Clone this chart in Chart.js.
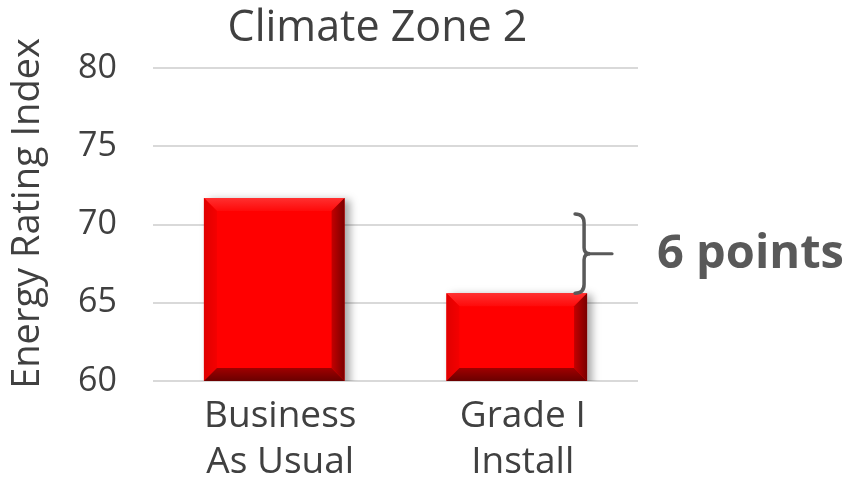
<!DOCTYPE html>
<html>
<head>
<meta charset="utf-8">
<script src="https://cdn.jsdelivr.net/npm/chart.js@4"></script>
<style>
    html, body { margin: 0; padding: 0; background: #ffffff; }
    #wrap { width: 850px; height: 485px; }
</style>
</head>
<body>
<div id="wrap"><canvas id="zoneChart" width="850" height="485"></canvas></div>
<script>
// Chart data
const categories = [['Business', 'As Usual'], ['Grade I', 'Install']];
const ratingValues = [71.7, 65.6];
const yTicks = [60, 65, 70, 75, 80];
const chartTitle = 'Climate Zone 2';
const axisTitle = 'Energy Rating Index';

const FONT = "'Open Sans', sans-serif";
const TEXT_COLOR = '#404040';
const NOTE_COLOR = '#595959';

// Drop shadow behind the bars
const barShadow = {
    id: 'barShadow',
    beforeDatasetDraw(chart) {
        const ctx = chart.ctx;
        ctx.save();
        ctx.shadowColor = 'rgba(0, 0, 0, 0.35)';
        ctx.shadowBlur = 8;
        ctx.shadowOffsetX = 5;
        ctx.shadowOffsetY = 2;
    },
    afterDatasetDraw(chart) {
        chart.ctx.restore();
    }
};

// Bevelled edges on each bar
const barBevel = {
    id: 'barBevel',
    afterDatasetsDraw(chart) {
        const ctx = chart.ctx;
        const bevel = 13;
        const area = chart.chartArea;
        chart.getDatasetMeta(0).data.forEach(bar => {
            const left = bar.x - bar.width / 2;
            const right = bar.x + bar.width / 2;
            const top = bar.y;
            const bottom = Math.min(bar.base, area.bottom);

            function face(points, fill) {
                ctx.beginPath();
                ctx.moveTo(points[0][0], points[0][1]);
                for (let i = 1; i < points.length; i++) {
                    ctx.lineTo(points[i][0], points[i][1]);
                }
                ctx.closePath();
                ctx.fillStyle = fill;
                ctx.fill();
            }

            ctx.save();
            // top face
            let g = ctx.createLinearGradient(0, top, 0, top + bevel);
            g.addColorStop(0, '#ff3030');
            g.addColorStop(1, '#ff0a0a');
            face([[left, top], [right, top], [right - bevel, top + bevel], [left + bevel, top + bevel]], g);
            // left face
            g = ctx.createLinearGradient(left, 0, left + bevel, 0);
            g.addColorStop(0, '#e00000');
            g.addColorStop(1, '#f40000');
            face([[left, top], [left + bevel, top + bevel], [left + bevel, bottom - bevel], [left, bottom]], g);
            // right face
            g = ctx.createLinearGradient(right - bevel, 0, right, 0);
            g.addColorStop(0, '#c40000');
            g.addColorStop(1, '#7a0000');
            face([[right, top], [right, bottom], [right - bevel, bottom - bevel], [right - bevel, top + bevel]], g);
            // bottom face
            g = ctx.createLinearGradient(0, bottom - bevel, 0, bottom);
            g.addColorStop(0, '#a00000');
            g.addColorStop(1, '#6a0000');
            face([[left, bottom], [left + bevel, bottom - bevel], [right - bevel, bottom - bevel], [right, bottom]], g);
            ctx.restore();
        });
    }
};

// Heading, axis title, difference bracket and its note
const annotations = {
    id: 'annotations',
    afterDraw(chart) {
        const ctx = chart.ctx;
        const area = chart.chartArea;
        const yScale = chart.scales.y;
        const bars = chart.getDatasetMeta(0).data;

        ctx.save();
        ctx.fillStyle = TEXT_COLOR;
        ctx.font = '43px ' + FONT;
        ctx.textAlign = 'center';
        ctx.textBaseline = 'alphabetic';
        ctx.fillText(chartTitle, (area.left + area.right) / 2 - 18, 41);

        // vertical axis title, sitting a little above the plot centre
        ctx.save();
        ctx.translate(28, (area.top + area.bottom) / 2 - 11);
        ctx.rotate(-Math.PI / 2);
        ctx.font = '38px ' + FONT;
        ctx.textBaseline = 'middle';
        ctx.fillText(axisTitle, 0, 0);
        ctx.restore();

        // bracket beside the second bar
        const second = bars[1];
        const bx = second.x + second.width / 2 - 3;
        const yBottom = yScale.getPixelForValue(ratingValues[1]);
        const yTop = yScale.getPixelForValue(ratingValues[0]) + 16;
        const yMid = (yTop + yBottom) / 2;
        const hook = 9;

        ctx.strokeStyle = NOTE_COLOR;
        ctx.lineWidth = 3.5;
        ctx.lineCap = 'round';
        ctx.beginPath();
        ctx.moveTo(bx - hook, yTop);
        ctx.quadraticCurveTo(bx, yTop, bx, yTop + hook);
        ctx.lineTo(bx, yMid - 6);
        ctx.quadraticCurveTo(bx, yMid, bx + 6, yMid);
        ctx.quadraticCurveTo(bx, yMid, bx, yMid + 6);
        ctx.lineTo(bx, yBottom - hook);
        ctx.quadraticCurveTo(bx, yBottom, bx - hook, yBottom);
        ctx.stroke();

        ctx.lineWidth = 3;
        ctx.beginPath();
        ctx.moveTo(bx + 4, yMid);
        ctx.lineTo(bx + 28, yMid);
        ctx.stroke();

        const diff = Math.round(ratingValues[0] - ratingValues[1]);
        ctx.fillStyle = NOTE_COLOR;
        ctx.font = 'bold 47px ' + FONT;
        ctx.textAlign = 'left';
        ctx.textBaseline = 'middle';
        ctx.fillText(diff + ' points', 657, yMid + 1);
        ctx.restore();
    }
};

const ctx = document.getElementById('zoneChart').getContext('2d');
const chart = new Chart(ctx, {
    type: 'bar',
    data: {
        labels: categories,
        datasets: [{
            label: axisTitle,
            data: ratingValues,
            backgroundColor: '#ff0000',
            borderWidth: 0,
            barPercentage: 0.58,
            categoryPercentage: 1.0
        }]
    },
    options: {
        responsive: false,
        animation: false,
        devicePixelRatio: 1,
        layout: {
            padding: { left: 8, right: 212, top: 68, bottom: 0 }
        },
        plugins: {
            legend: { display: false },
            tooltip: { enabled: false },
            title: { display: false }
        },
        scales: {
            x: {
                grid: { display: false },
                border: { display: false },
                afterFit(axis) {
                    axis.height = 104;
                },
                ticks: {
                    color: TEXT_COLOR,
                    font: { family: FONT, size: 37, lineHeight: 1.25 },
                    padding: 4,
                    labelOffset: 6
                }
            },
            y: {
                min: yTicks[0],
                max: yTicks[yTicks.length - 1],
                afterBuildTicks(axis) {
                    axis.ticks = yTicks.map(v => ({ value: v }));
                },
                afterFit(axis) {
                    axis.width = 145;
                },
                grid: {
                    color: '#d9d9d9',
                    lineWidth: 2,
                    drawTicks: false
                },
                border: { display: false },
                ticks: {
                    color: TEXT_COLOR,
                    font: { family: FONT, size: 34 },
                    padding: 36
                },
                title: { display: false }
            }
        }
    },
    plugins: [barShadow, barBevel, annotations]
});
</script>
</body>
</html>
